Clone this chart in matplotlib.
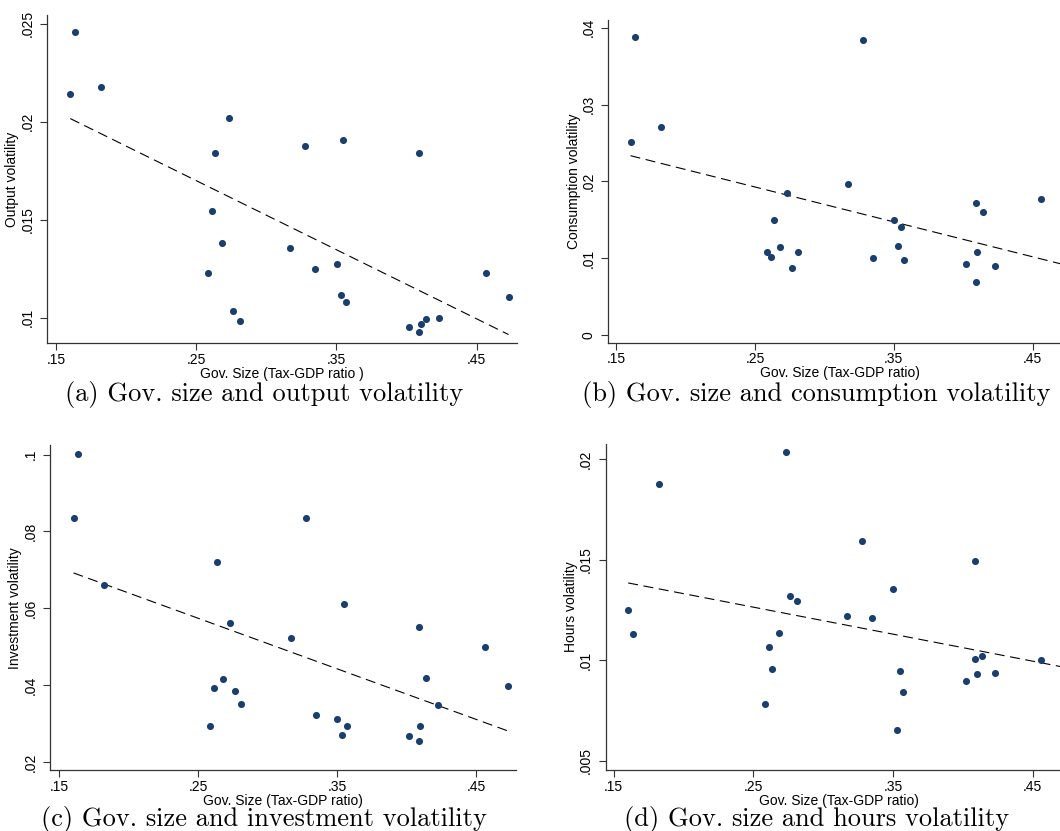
import matplotlib
matplotlib.use('Agg')

import numpy as np
from matplotlib import pyplot as plt

# tax-GDP ratio per country (same countries in all four panels)
gov_size = [0.1603, 0.1638, 0.1825, 0.2584, 0.2614, 0.2636, 0.2681, 0.2732,
            0.2766, 0.2811, 0.3168, 0.3277, 0.3349, 0.3501, 0.3532, 0.3550,
            0.3570, 0.4021, 0.4090, 0.4090, 0.4100, 0.4139, 0.4229, 0.4563,
            0.4727]

output_vol = [0.02141, 0.02457, 0.02178, 0.01228, 0.01543, 0.01841, 0.01379,
              0.02021, 0.01033, 0.00986, 0.01357, 0.01878, 0.01250, 0.01274,
              0.01117, 0.01907, 0.01081, 0.00952, 0.01840, 0.00928, 0.00971,
              0.00995, 0.01000, 0.01229, 0.01105]

consumption_vol = [0.02507, 0.03877, 0.02709, 0.01075, 0.01013, 0.01498,
                   0.01150, 0.01850, 0.00872, 0.01079, 0.01969, 0.03846,
                   0.00996, 0.01489, 0.01159, 0.01405, 0.00969, 0.00916,
                   0.01718, 0.00692, 0.01079, 0.01595, 0.00890, 0.01767,
                   0.01240]

investment_vol = [0.08347, 0.1001, 0.06607, 0.02932, 0.03925, 0.07213, 0.04171,
                  0.05613, 0.03846, 0.03503, 0.05235, 0.08347, 0.03231, 0.03116,
                  0.02712, 0.06105, 0.02949, 0.02677, 0.05525, 0.02563, 0.02941,
                  0.04198, 0.03477, 0.05007, 0.03978]

hours_vol = [0.01251, 0.01130, 0.01874, 0.00782, 0.01064, 0.00955, 0.01137,
             0.02034, 0.01320, 0.01296, 0.01219, 0.01595, 0.01212, 0.01355,
             0.00656, 0.00948, 0.00841, 0.00895, 0.01491, 0.01007, 0.00932,
             0.01021, 0.00938, 0.01002, 0.01056]

x_ticks = [0.15, 0.25, 0.35, 0.45]

panels = [
    # y data, y label, y ticks, xlabel, caption, axes rect, xlim, ylim
    (output_vol, 'Output volatility', [0.01, 0.015, 0.02, 0.025],
     'Gov. Size (Tax-GDP ratio )', '(a) Gov. size and output volatility',
     [0.0446, 0.5871, 0.4427, 0.3946], (0.1439, 0.4784), (0.00871, 0.02543)),
    (consumption_vol, 'Consumption volatility', [0, 0.01, 0.02, 0.03, 0.04],
     'Gov. Size (Tax-GDP ratio)', '(b) Gov. size and consumption volatility',
     [0.5740, 0.5878, 0.4374, 0.3886], (0.1444, 0.4784), (-0.00101, 0.04106)),
    (investment_vol, 'Investment volatility', [0.02, 0.04, 0.06, 0.08, 0.1],
     'Gov. Size (Tax-GDP ratio)', '(c) Gov. size and investment volatility',
     [0.0472, 0.0734, 0.4392, 0.3906], (0.1434, 0.4785), (0.01798, 0.10237)),
    (hours_vol, 'Hours volatility', [0.005, 0.01, 0.015, 0.02],
     'Gov. Size (Tax-GDP ratio)', '(d) Gov. size and hours volatility',
     [0.5714, 0.0734, 0.4401, 0.3927], (0.1442, 0.4784), (0.00455, 0.02076)),
]

# caption baselines (figure fraction)
caption_pos = [(0.2495, 0.5175), (0.7698, 0.5175), (0.2488, 0.0060), (0.7703, 0.0060)]


def stata_fmt(v):
    s = '%g' % v
    if s.startswith('0.'):
        s = s[1:]
    return s


plt.rcParams['font.family'] = ['Liberation Sans', 'DejaVu Sans']
fig = plt.figure(figsize=(10.6, 8.31), dpi=100)

X = np.array(gov_size)
for (Y, ylab, yt, xlab, cap, rect, xl, yl), cp in zip(panels, caption_pos):
    Y = np.array(Y)
    ax = fig.add_axes(rect)
    ax.scatter(X, Y, s=26, color='#1a3f6f', zorder=3, linewidths=0)
    b, a = np.polyfit(X, Y, 1)
    xs = np.array([X.min(), X.max()])
    ax.plot(xs, a + b * xs, color='black', lw=0.8, dashes=(9, 5), zorder=2)
    ax.set_xlim(xl)
    ax.set_ylim(yl)
    ax.set_xticks(x_ticks)
    ax.set_xticklabels([stata_fmt(v) for v in x_ticks], fontsize=10)
    ax.set_yticks(yt)
    ax.set_yticklabels([stata_fmt(v) for v in yt], fontsize=10,
                       rotation=90, va='center')
    ax.spines['top'].set_visible(False)
    ax.spines['right'].set_visible(False)
    for side in ['left', 'bottom']:
        ax.spines[side].set_color('#333333')
        ax.spines[side].set_linewidth(0.9)
    ax.tick_params(direction='out', length=5, width=0.8, color='#333333')
    ax.tick_params(axis='x', pad=2)
    ax.tick_params(axis='y', pad=4)
    ax.set_xlabel(xlab, fontsize=10, labelpad=0)
    ax.set_ylabel(ylab, fontsize=10, labelpad=1)
    fig.text(cp[0], cp[1], cap, ha='center', va='baseline',
             fontsize=19, family=['cmr10', 'DejaVu Serif'])

plt.savefig('out.png', dpi=100)
